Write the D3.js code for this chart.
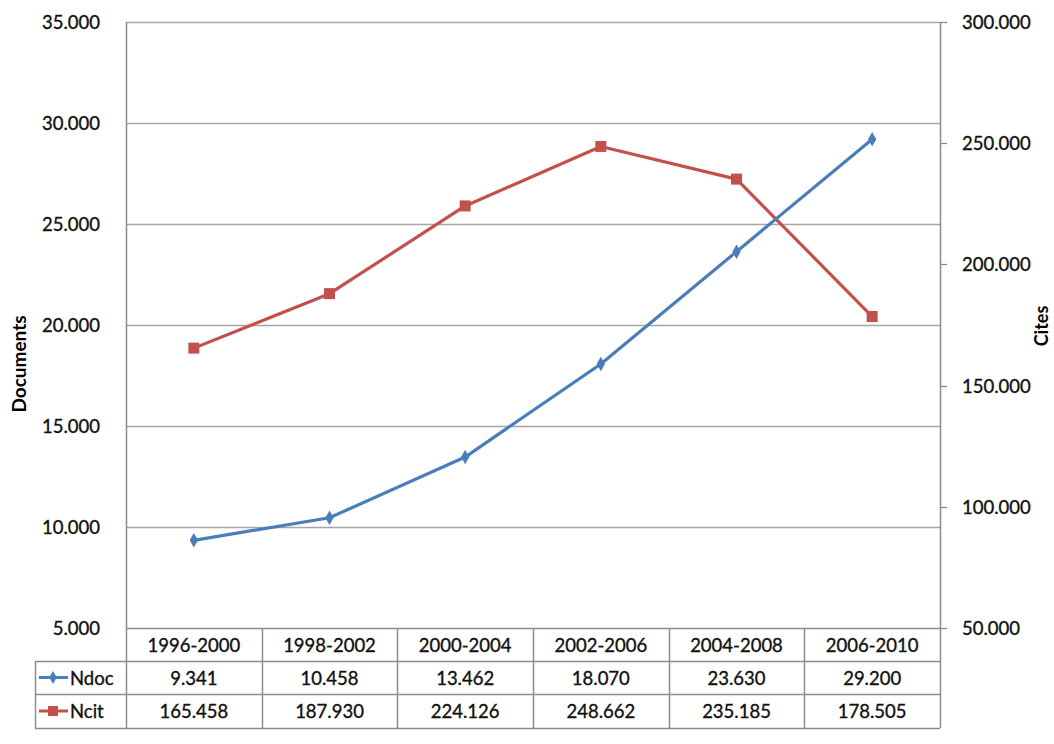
<!DOCTYPE html>
<html>
<head>
<meta charset="utf-8">
<script src="https://cdn.jsdelivr.net/npm/d3@7"></script>
<style>
  html, body { margin: 0; padding: 0; background: #ffffff; }
  svg { display: block; font-family: Lato, "Open Sans", sans-serif; }
  .lbl { fill: #111; stroke: #111; stroke-width: 0.35px; }
</style>
</head>
<body>
<svg id="chart" width="1054" height="744"></svg>
<script>
// Periods and series
const categories = ["1996-2000", "1998-2002", "2000-2004", "2002-2006", "2004-2008", "2006-2010"];
const seriesNames = ["Ndoc", "Ncit"];
const ndoc = [9341, 10458, 13462, 18070, 23630, 29200];
const ncit = [165458, 187930, 224126, 248662, 235185, 178505];
const leftTicks = [5000, 10000, 15000, 20000, 25000, 30000, 35000];
const rightTicks = [50000, 100000, 150000, 200000, 250000, 300000];

const locale = d3.formatLocale({ decimal: ",", thousands: ".", grouping: [3], currency: ["", "€"] });
const fmt = locale.format(",d");

const colors = { Ndoc: "#4a7ebb", Ncit: "#c4504e" };
const gridColor = "#a6a6a6";
const borderColor = "#8c8c8c";

const svg = d3.select("#chart");

const plot = { left: 126, right: 940, top: 22, bottom: 628 };
const rowH = [33, 33, 34]; // header, Ndoc, Ncit

const x = d3.scaleBand().domain(categories).range([plot.left, plot.right]).padding(0);
const yL = d3.scaleLinear().domain([5000, 35000]).range([plot.bottom, plot.top]);
const yR = d3.scaleLinear().domain([50000, 300000]).range([plot.bottom, plot.top]);

// Horizontal gridlines from the left axis
svg.append("g").selectAll("line").data(leftTicks.slice(1)).join("line")
  .attr("x1", plot.left).attr("x2", plot.right)
  .attr("y1", d => Math.round(yL(d)) + 0.5).attr("y2", d => Math.round(yL(d)) + 0.5)
  .attr("stroke", gridColor).attr("stroke-width", 1.6);

// Left axis line and labels
svg.append("line").attr("x1", plot.left + 0.5).attr("x2", plot.left + 0.5)
  .attr("y1", plot.top).attr("y2", plot.bottom)
  .attr("stroke", borderColor).attr("stroke-width", 1.5);
svg.append("g").selectAll("text").data(leftTicks).join("text")
  .attr("class", "lbl")
  .attr("x", 100).attr("y", d => yL(d) + 7)
  .attr("text-anchor", "end").attr("font-size", 18.5)
  .text(d => fmt(d));

// Right axis line, outward ticks and labels
svg.append("line").attr("x1", plot.right + 0.5).attr("x2", plot.right + 0.5)
  .attr("y1", plot.top).attr("y2", plot.bottom)
  .attr("stroke", borderColor).attr("stroke-width", 1.5);
svg.append("g").selectAll("line").data(rightTicks).join("line")
  .attr("x1", plot.right).attr("x2", plot.right + 7)
  .attr("y1", d => Math.round(yR(d)) + 0.5).attr("y2", d => Math.round(yR(d)) + 0.5)
  .attr("stroke", borderColor).attr("stroke-width", 1.3);
svg.append("g").selectAll("text").data(rightTicks).join("text")
  .attr("class", "lbl")
  .attr("x", 962).attr("y", d => yR(d) + 7)
  .attr("text-anchor", "start").attr("font-size", 18.5)
  .text(d => fmt(d));

// Axis titles
svg.append("text")
  .attr("transform", `translate(26,${364}) rotate(-90)`)
  .attr("text-anchor", "middle").attr("font-size", 19).attr("font-weight", "bold").attr("fill", "#000")
  .text("Documents");
svg.append("text")
  .attr("transform", `translate(1048,326) rotate(-90)`)
  .attr("text-anchor", "middle").attr("font-size", 18).attr("font-weight", "bold").attr("fill", "#000")
  .text("Cites");

// Data table below the plot
const tTop = plot.bottom;
const rowY = [tTop, tTop + rowH[0], tTop + rowH[0] + rowH[1], tTop + rowH[0] + rowH[1] + rowH[2]];
const legendLeft = 35;
const table = svg.append("g");
// horizontal rules
table.append("line").attr("x1", plot.left).attr("x2", plot.right)
  .attr("y1", rowY[0] + 0.5).attr("y2", rowY[0] + 0.5).attr("stroke", borderColor).attr("stroke-width", 1.6);
[rowY[1], rowY[2], rowY[3]].forEach(yy => {
  table.append("line").attr("x1", legendLeft).attr("x2", plot.right)
    .attr("y1", yy + 0.5).attr("y2", yy + 0.5).attr("stroke", borderColor).attr("stroke-width", 1.5);
});
// vertical rules
const colEdges = categories.map(c => x(c)).concat([plot.right]);
table.selectAll("line.v").data(colEdges).join("line").attr("class", "v")
  .attr("x1", d => Math.round(d) + 0.5).attr("x2", d => Math.round(d) + 0.5)
  .attr("y1", rowY[0]).attr("y2", rowY[3])
  .attr("stroke", borderColor).attr("stroke-width", 1.5);
table.append("line").attr("x1", legendLeft + 0.5).attr("x2", legendLeft + 0.5)
  .attr("y1", rowY[1]).attr("y2", rowY[3]).attr("stroke", borderColor).attr("stroke-width", 1.5);

// header labels
table.selectAll("text.hdr").data(categories).join("text").attr("class", "hdr lbl")
  .attr("x", d => x(d) + x.bandwidth() / 2).attr("y", rowY[0] + rowH[0] / 2 + 7)
  .attr("text-anchor", "middle").attr("font-size", 18.5)
  .text(d => d);

// value rows
const rows = [{ name: "Ndoc", values: ndoc }, { name: "Ncit", values: ncit }];
rows.forEach((r, i) => {
  const cy = rowY[i + 1] + rowH[i + 1] / 2;
  table.selectAll(`text.v${i}`).data(r.values).join("text").attr("class", `v${i} lbl`)
    .attr("x", (d, j) => x(categories[j]) + x.bandwidth() / 2).attr("y", cy + 7)
    .attr("text-anchor", "middle").attr("font-size", 18.5)
    .text(d => fmt(d));
  // legend key
  table.append("line").attr("x1", 39).attr("x2", 68).attr("y1", cy).attr("y2", cy)
    .attr("stroke", colors[r.name]).attr("stroke-width", 3);
  if (r.name === "Ndoc") {
    table.append("path").attr("d", d3.symbol(d3.symbolDiamond, 50)())
      .attr("transform", `translate(53,${cy})`).attr("fill", colors[r.name]);
  } else {
    table.append("rect").attr("x", 48).attr("y", cy - 5).attr("width", 10).attr("height", 10)
      .attr("fill", colors[r.name]);
  }
  table.append("text").attr("class", "lbl").attr("x", 70).attr("y", cy + 7).attr("font-size", 18.5)
    .text(r.name);
});

// Series lines
const cx = c => x(c) + x.bandwidth() / 2;
const lineL = d3.line().x((d, i) => cx(categories[i])).y(d => yL(d));
const lineR = d3.line().x((d, i) => cx(categories[i])).y(d => yR(d));

svg.append("path").datum(ncit).attr("d", lineR)
  .attr("fill", "none").attr("stroke", colors.Ncit).attr("stroke-width", 3.2).attr("stroke-linejoin", "round");
svg.append("g").selectAll("rect").data(ncit).join("rect")
  .attr("x", (d, i) => cx(categories[i]) - 5.5).attr("y", d => yR(d) - 5.5)
  .attr("width", 11).attr("height", 11).attr("fill", colors.Ncit);

svg.append("path").datum(ndoc).attr("d", lineL)
  .attr("fill", "none").attr("stroke", colors.Ndoc).attr("stroke-width", 3.2).attr("stroke-linejoin", "round");
svg.append("g").selectAll("path").data(ndoc).join("path")
  .attr("d", d3.symbol(d3.symbolDiamond, 60)())
  .attr("transform", (d, i) => `translate(${cx(categories[i])},${yL(d)})`)
  .attr("fill", colors.Ndoc);
</script>
</body>
</html>
